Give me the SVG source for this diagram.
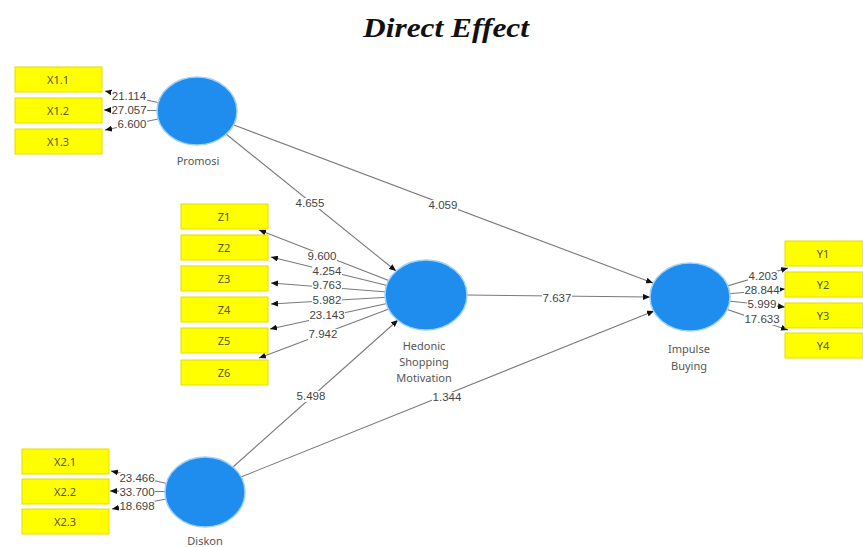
<svg xmlns="http://www.w3.org/2000/svg" width="863" height="547" viewBox="0 0 863 547">
<style>
.title{font-family:"Liberation Serif",serif;font-weight:bold;font-style:italic;font-size:28px;fill:#111}
.lv{fill:#1f8ded;stroke:#9fd0fa;stroke-width:1.5}
.ind{fill:#ffff00;stroke:#e6dc00;stroke-width:1}
.it{font-family:"Noto Sans",sans-serif;font-size:11px;fill:#55553a;text-anchor:middle}
.nl{font-family:"Noto Sans",sans-serif;font-size:11px;fill:#555;text-anchor:middle}
.ln{stroke:#7a7a7a;stroke-width:1.1;fill:none;marker-end:url(#ah)}
.bg{fill:#fff}
.val{font-family:"Liberation Sans",Arial,sans-serif;font-size:11.5px;fill:#444;text-anchor:middle}
</style>
<defs>
<marker id="ah" markerUnits="userSpaceOnUse" markerWidth="7" markerHeight="6" refX="7" refY="3" orient="auto">
<path d="M0,0 L7,3 L0,6 z" fill="#111"/>
</marker>
</defs>
<rect width="863" height="547" fill="#fff"/>
<text class="title" x="446" y="37" text-anchor="middle" textLength="166" lengthAdjust="spacingAndGlyphs">Direct Effect</text>

<g id="connectors">
<line class="ln" x1="226" y1="134" x2="396" y2="271"/>
<line class="ln" x1="234" y1="125" x2="653" y2="283"/>
<line class="ln" x1="467" y1="295" x2="650" y2="297"/>
<line class="ln" x1="233" y1="467" x2="398" y2="320"/>
<line class="ln" x1="241" y1="477" x2="654" y2="311"/>
<line class="ln" x1="197" y1="111" x2="105" y2="91"/>
<line class="ln" x1="197" y1="111" x2="104" y2="110"/>
<line class="ln" x1="197" y1="111" x2="105" y2="130"/>
<line class="ln" x1="426" y1="295" x2="259" y2="230"/>
<line class="ln" x1="426" y1="295" x2="271" y2="257"/>
<line class="ln" x1="426" y1="295" x2="271" y2="283"/>
<line class="ln" x1="426" y1="295" x2="271" y2="304"/>
<line class="ln" x1="426" y1="295" x2="270" y2="329"/>
<line class="ln" x1="426" y1="295" x2="259" y2="358"/>
<line class="ln" x1="690" y1="297" x2="788" y2="268"/>
<line class="ln" x1="690" y1="297" x2="785" y2="289"/>
<line class="ln" x1="690" y1="297" x2="785" y2="307"/>
<line class="ln" x1="690" y1="297" x2="788" y2="330"/>
<line class="ln" x1="205" y1="492" x2="111" y2="471"/>
<line class="ln" x1="205" y1="492" x2="110" y2="491"/>
<line class="ln" x1="205" y1="492" x2="112" y2="509"/>
<!-- label backgrounds -->
<rect class="bg" x="295" y="198" width="30" height="11"/>
<rect class="bg" x="428" y="200" width="30" height="11"/>
<rect class="bg" x="542" y="293" width="30" height="11"/>
<rect class="bg" x="296" y="391" width="30" height="11"/>
<rect class="bg" x="432" y="392" width="30" height="11"/>
<rect class="bg" x="111" y="91" width="36" height="11"/>
<rect class="bg" x="111" y="105" width="36" height="11"/>
<rect class="bg" x="117" y="119" width="30" height="11"/>
<rect class="bg" x="307" y="251" width="30" height="11"/>
<rect class="bg" x="312" y="266" width="30" height="11"/>
<rect class="bg" x="312" y="280" width="30" height="11"/>
<rect class="bg" x="312" y="295" width="30" height="11"/>
<rect class="bg" x="309" y="310" width="36" height="11"/>
<rect class="bg" x="308" y="329" width="30" height="11"/>
<rect class="bg" x="748" y="271" width="30" height="11"/>
<rect class="bg" x="744" y="285" width="36" height="11"/>
<rect class="bg" x="747" y="299" width="30" height="11"/>
<rect class="bg" x="744" y="314" width="36" height="11"/>
<rect class="bg" x="119" y="473" width="36" height="11"/>
<rect class="bg" x="119" y="487" width="36" height="11"/>
<rect class="bg" x="119" y="501" width="36" height="11"/>
<text class="val" x="310" y="207">4.655</text>
<text class="val" x="443" y="209">4.059</text>
<text class="val" x="557" y="302">7.637</text>
<text class="val" x="311" y="400">5.498</text>
<text class="val" x="447" y="401">1.344</text>
<text class="val" x="129" y="100">21.114</text>
<text class="val" x="129" y="114">27.057</text>
<text class="val" x="132" y="128">6.600</text>
<text class="val" x="322" y="260">9.600</text>
<text class="val" x="327" y="275">4.254</text>
<text class="val" x="327" y="289">9.763</text>
<text class="val" x="327" y="304">5.982</text>
<text class="val" x="327" y="319">23.143</text>
<text class="val" x="323" y="338">7.942</text>
<text class="val" x="763" y="280">4.203</text>
<text class="val" x="762" y="294">28.844</text>
<text class="val" x="762" y="308">5.999</text>
<text class="val" x="762" y="323">17.633</text>
<text class="val" x="137" y="482">23.466</text>
<text class="val" x="137" y="496">33.700</text>
<text class="val" x="137" y="510">18.698</text>
</g>

<g id="promosi"><ellipse class="lv" cx="197" cy="111" rx="40" ry="34"/><text class="nl" x="198" y="165">Promosi</text></g>
<g id="hedonic"><ellipse class="lv" cx="426" cy="295" rx="41" ry="35"/><text class="nl" x="424" y="350">Hedonic</text><text class="nl" x="424" y="366">Shopping</text><text class="nl" x="424" y="382">Motivation</text></g>
<g id="impulse"><ellipse class="lv" cx="690" cy="297" rx="40" ry="34"/><text class="nl" x="689" y="353">Impulse</text><text class="nl" x="689" y="370">Buying</text></g>
<g id="diskon"><ellipse class="lv" cx="205" cy="492" rx="40" ry="35"/><text class="nl" x="205" y="545">Diskon</text></g>

<g id="x11"><rect class="ind" x="15" y="67" width="87" height="25"/><text class="it" x="58" y="83.5">X1.1</text></g>
<g id="x12"><rect class="ind" x="15" y="98" width="87" height="25"/><text class="it" x="58" y="114.5">X1.2</text></g>
<g id="x13"><rect class="ind" x="15" y="129" width="87" height="25"/><text class="it" x="58" y="145.5">X1.3</text></g>

<g id="z1"><rect class="ind" x="181" y="204" width="87" height="25"/><text class="it" x="224" y="220.5">Z1</text></g>
<g id="z2"><rect class="ind" x="181" y="235" width="87" height="25"/><text class="it" x="224" y="251.5">Z2</text></g>
<g id="z3"><rect class="ind" x="181" y="266" width="87" height="25"/><text class="it" x="224" y="282.5">Z3</text></g>
<g id="z4"><rect class="ind" x="181" y="297" width="87" height="25"/><text class="it" x="224" y="313.5">Z4</text></g>
<g id="z5"><rect class="ind" x="181" y="328" width="87" height="25"/><text class="it" x="224" y="344.5">Z5</text></g>
<g id="z6"><rect class="ind" x="181" y="360" width="87" height="25"/><text class="it" x="224" y="376.5">Z6</text></g>

<g id="y1"><rect class="ind" x="785" y="241" width="78" height="25"/><text class="it" x="823" y="257.5">Y1</text></g>
<g id="y2"><rect class="ind" x="785" y="272" width="78" height="25"/><text class="it" x="823" y="288.5">Y2</text></g>
<g id="y3"><rect class="ind" x="785" y="303" width="78" height="25"/><text class="it" x="823" y="319.5">Y3</text></g>
<g id="y4"><rect class="ind" x="785" y="333" width="78" height="25"/><text class="it" x="823" y="349.5">Y4</text></g>

<g id="x21"><rect class="ind" x="22" y="449" width="87" height="25"/><text class="it" x="65" y="465.5">X2.1</text></g>
<g id="x22"><rect class="ind" x="22" y="479" width="87" height="25"/><text class="it" x="65" y="495.5">X2.2</text></g>
<g id="x23"><rect class="ind" x="22" y="509" width="87" height="25"/><text class="it" x="65" y="525.5">X2.3</text></g>
</svg>
